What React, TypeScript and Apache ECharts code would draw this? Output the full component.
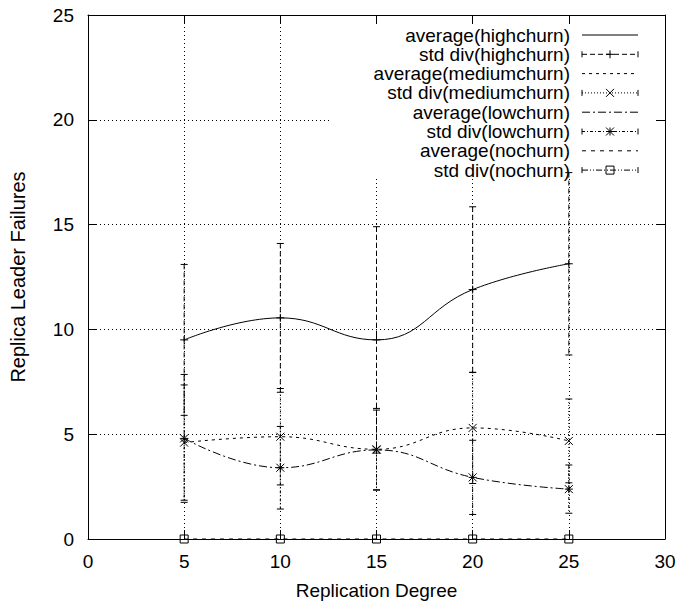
import React, { useEffect, useRef } from "react";
import * as echarts from "echarts";

// ---- data ----
const xValues = [5, 10, 15, 20, 25];
const highAvg = [9.5, 10.55, 9.5, 11.9, 13.13];
const highStd = [3.6, 3.55, 5.4, 3.95, 4.35];
const mediumAvg = [4.6, 4.88, 4.28, 5.3, 4.68];
const mediumStd = [2.75, 2.3, 1.95, 2.65, 2.0];
const lowAvg = [4.8, 3.4, 4.25, 2.94, 2.38];
const lowStd = [3.05, 1.97, 1.9, 1.77, 1.15];
const noAvg = [0, 0, 0, 0, 0];
const noStd = [0, 0, 0, 0, 0];

const avgNames = ["average(highchurn)", "average(mediumchurn)", "average(lowchurn)", "average(nochurn)"];
const stdNames = ["std div(highchurn)", "std div(mediumchurn)", "std div(lowchurn)", "std div(nochurn)"];
const xTitle = "Replication Degree";
const yTitle = "Replica Leader Failures";

const FONT = "'Liberation Sans', Arial, Helvetica, sans-serif";
const FS = 19;
const LEGEND_FS = 19;
const YNAME_FS = 20;

const avgDashes: (number[] | null)[] = [null, [3, 4], [8, 3, 2, 3], [4, 5]];
const stdDashes: number[][] = [[5, 3], [1, 2], [3, 2, 1, 2], [6, 2, 1, 2, 1, 2]];
const symbols = ["plus", "cross", "star", "box"];

const groups = [
  { avg: highAvg, std: highStd },
  { avg: mediumAvg, std: mediumStd },
  { avg: lowAvg, std: lowStd },
  { avg: noAvg, std: noStd },
];

function symbolShapes(kind: string, cx: number, cy: number) {
  const r = 4;
  const st = { stroke: "#000", lineWidth: 1, fill: "none" };
  const ln = (x1: number, y1: number, x2: number, y2: number) => ({
    type: "line",
    shape: { x1, y1, x2, y2 },
    style: st,
  });
  if (kind === "plus") return [ln(cx - r, cy, cx + r, cy), ln(cx, cy - r, cx, cy + r)];
  if (kind === "cross") return [ln(cx - r, cy - r, cx + r, cy + r), ln(cx - r, cy + r, cx + r, cy - r)];
  if (kind === "star")
    return [
      ln(cx - r, cy, cx + r, cy),
      ln(cx, cy - r, cx, cy + r),
      ln(cx - r, cy - r, cx + r, cy + r),
      ln(cx - r, cy + r, cx + r, cy - r),
    ];
  return [
    { type: "rect", shape: { x: cx - r, y: cy - r, width: 2 * r, height: 2 * r }, style: st },
  ];
}

export default function App() {
  const ref = useRef<HTMLDivElement>(null);
  useEffect(() => {
    if (!ref.current) return;
    const chart = echarts.init(ref.current, undefined, { renderer: "svg" });

    const series: any[] = [];
    groups.forEach((g, gi) => {
      series.push({
        type: "line",
        name: avgNames[gi],
        data: xValues.map((x, i) => [x, g.avg[i]]),
        smooth: 0.45,
        showSymbol: false,
        symbol: "none",
        lineStyle: { color: "#000", width: 1, type: avgDashes[gi] ?? "solid" },
        z: 3,
      });
      series.push({
        type: "custom",
        name: stdNames[gi],
        data: xValues.map((x, i) => [x, g.avg[i], g.std[i]]),
        encode: { x: 0, y: 1 },
        clip: false,
        z: 3,
        renderItem: (params: any, api: any) => {
          const x = api.value(0);
          const y = api.value(1);
          const s = api.value(2);
          const top = api.coord([x, y + s]);
          const bot = api.coord([x, y - s]);
          const c = api.coord([x, y]);
          const dash = { stroke: "#000", lineWidth: 1, lineDash: stdDashes[gi], fill: "none" };
          const solid = { stroke: "#000", lineWidth: 1, fill: "none" };
          const children: any[] = [];
          if (s > 0) {
            children.push({ type: "line", shape: { x1: top[0], y1: top[1], x2: bot[0], y2: bot[1] }, style: dash });
            children.push({ type: "line", shape: { x1: top[0] - 3.5, y1: top[1], x2: top[0] + 3.5, y2: top[1] }, style: solid });
            children.push({ type: "line", shape: { x1: bot[0] - 3.5, y1: bot[1], x2: bot[0] + 3.5, y2: bot[1] }, style: solid });
          }
          children.push(...symbolShapes(symbols[gi], c[0], c[1]));
          return { type: "group", children };
        },
      });
    });

    // legend (gnuplot style key, opaque)
    const rowY0 = 35;
    const rowStep = 19.3;
    const textRight = 570;
    const sx1 = 582;
    const sx2 = 638;
    const legendEls: any[] = [
      {
        type: "rect",
        shape: { x: 330, y: 16, width: 334, height: 162 },
        style: { fill: "#fff", stroke: "none" },
        z: 1,
      },
    ];
    groups.forEach((g, gi) => {
      const names = [avgNames[gi], stdNames[gi]];
      names.forEach((nm, k) => {
        const row = gi * 2 + k;
        const y = rowY0 + row * rowStep;
        legendEls.push({
          type: "text",
          x: textRight,
          y,
          z: 10,
          style: {
            text: nm,
            fontSize: LEGEND_FS,
            fontFamily: FONT,
            fill: "#000",
            align: "right",
            verticalAlign: "middle",
          },
        });
        if (k === 0) {
          legendEls.push({
            type: "line",
            z: 10,
            shape: { x1: sx1, y1: y, x2: sx2, y2: y },
            style: { stroke: "#000", lineWidth: 1, lineDash: avgDashes[gi] ?? undefined },
          });
        } else {
          legendEls.push({
            type: "line",
            z: 10,
            shape: { x1: sx1, y1: y, x2: sx2, y2: y },
            style: { stroke: "#000", lineWidth: 1, lineDash: stdDashes[gi] },
          });
          legendEls.push({ type: "line", z: 10, shape: { x1: sx1, y1: y - 3, x2: sx1, y2: y + 3 }, style: { stroke: "#000", lineWidth: 1 } });
          legendEls.push({ type: "line", z: 10, shape: { x1: sx2, y1: y - 3, x2: sx2, y2: y + 3 }, style: { stroke: "#000", lineWidth: 1 } });
          legendEls.push({
            type: "group",
            z: 10,
            children: symbolShapes(symbols[gi], (sx1 + sx2) / 2, y).map((e: any) => ({ ...e, z: 10 })),
          });
        }
      });
    });

    const axisLine = { show: true, onZero: false, lineStyle: { color: "#000", width: 1 } };
    const axisTick = { show: true, inside: true, length: 9, lineStyle: { color: "#000", width: 1 } };
    const gridLine = { show: true, lineStyle: { color: "#000", width: 1, type: [1, 3] as any } };
    const labelStyle = { color: "#000", fontSize: FS, fontFamily: FONT };

    chart.setOption({
      animation: false,
      backgroundColor: "#fff",
      grid: { left: 87, right: 15, top: 15, bottom: 65, containLabel: false },
      xAxis: [
        {
          type: "value",
          min: 0,
          max: 30,
          interval: 5,
          position: "bottom",
          axisLine,
          axisTick,
          axisLabel: { ...labelStyle, margin: 13 },
          splitLine: gridLine,
          name: xTitle,
          nameLocation: "middle",
          nameGap: 42,
          nameTextStyle: labelStyle,
          z: 0,
        },
        {
          type: "value",
          min: 0,
          max: 30,
          interval: 5,
          position: "top",
          axisLine,
          axisTick,
          axisLabel: { show: false },
          splitLine: { show: false },
          z: 5,
        },
      ],
      yAxis: [
        {
          type: "value",
          min: 0,
          max: 25,
          interval: 5,
          position: "left",
          axisLine,
          axisTick,
          axisLabel: { ...labelStyle, margin: 14 },
          splitLine: gridLine,
          name: yTitle,
          nameLocation: "middle",
          nameGap: 60,
          nameTextStyle: { ...labelStyle, fontSize: YNAME_FS },
          z: 0,
        },
        {
          type: "value",
          min: 0,
          max: 25,
          interval: 5,
          position: "right",
          axisLine,
          axisTick,
          axisLabel: { show: false },
          splitLine: { show: false },
          z: 5,
        },
      ],
      series,
      graphic: { elements: legendEls },
    });
    return () => chart.dispose();
  }, []);
  return (
    <div
      ref={ref}
      style={{ position: "fixed", left: 0, top: 0, width: 680, height: 605, background: "#fff" }}
    />
  );
}
